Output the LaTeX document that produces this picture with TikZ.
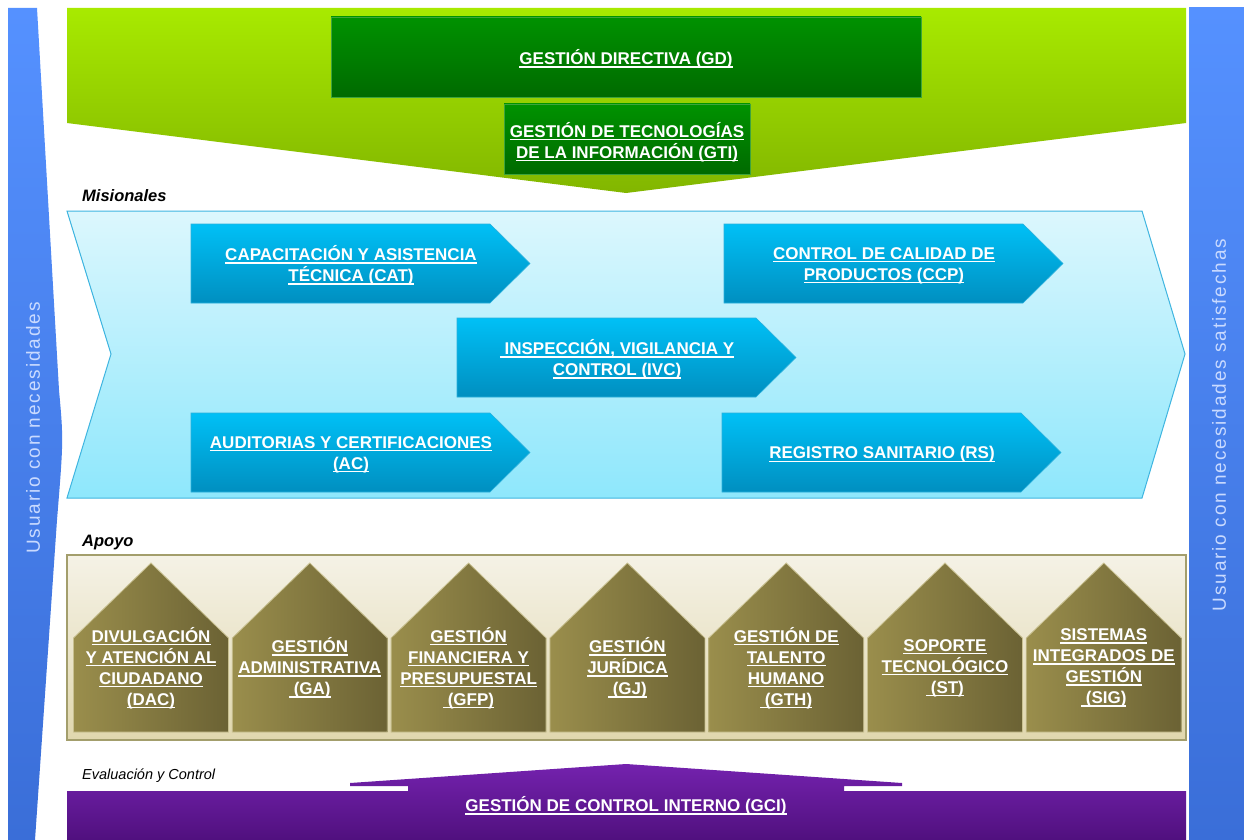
\documentclass[tikz,border=0pt]{standalone}
\usepackage{fontspec}
\setmainfont{Liberation Sans}
\newfontfamily\spacedfont[LetterSpace=10]{Liberation Sans}
\definecolor{sbT}{HTML}{5591FF}
\definecolor{sbB}{HTML}{3A6ED8}
\definecolor{sideT}{HTML}{C9DAFF}
\definecolor{grT}{HTML}{A8EA00}
\definecolor{grB}{HTML}{82B600}
\definecolor{dgT}{HTML}{009200}
\definecolor{dgB}{HTML}{006A00}
\definecolor{dgD}{HTML}{3DA33D}
\definecolor{lbT}{HTML}{DCF7FD}
\definecolor{lbB}{HTML}{8EE7FC}
\definecolor{lbD}{HTML}{3FB5E0}
\definecolor{arrT}{HTML}{00C0F6}
\definecolor{arrB}{HTML}{008FC0}
\definecolor{arrD}{HTML}{2AB0DC}
\definecolor{bgT}{HTML}{F5F2E6}
\definecolor{bgB}{HTML}{E0D7AE}
\definecolor{bgD}{HTML}{A39E6C}
\definecolor{hsL}{HTML}{9A8E4C}
\definecolor{hsR}{HTML}{6B6234}
\definecolor{hsD}{HTML}{C8C090}
\definecolor{puT}{HTML}{7422AE}
\definecolor{puB}{HTML}{50107E}
\newcommand\uln[1]{\leavevmode\setbox0=\hbox{#1}\rlap{\copy0}\rule[-3pt]{\wd0}{1.3pt}}
\newcommand\pentarrow[4]{%
  \path[pent] (#1,#2) -- ++(299,0) -- ++(40,39.5) -- ++(-40,39.5) -- ++(-299,0) -- cycle;
  \node[lbl] (#3) at (#1+160,#2+41.5) {#4};}
\newcommand\apoyohouse[3]{%
  \path[house] (#1-77.5,732) -- (#1-77.5,638) -- (#1,563) -- (#1+77.5,638) -- (#1+77.5,732) -- cycle;
  \node[lbl] (#2) at (#1,668) {#3};}
\begin{document}
\begin{tikzpicture}[x=1pt,y=-1pt,
  lbl/.style={text=white,font=\bfseries\fontsize{17}{21}\selectfont,align=center,inner sep=0},
  pent/.style={top color=arrT,bottom color=arrB,draw=arrD,line width=0.6},
  house/.style={left color=hsL,right color=hsR,draw=hsD,line width=0.8},
  sec/.style={font=\bfseries\itshape\fontsize{16.5}{20}\selectfont,anchor=base west,inner sep=0},
  side/.style={text=sideT,font=\spacedfont\fontsize{19}{22}\selectfont,rotate=90,inner sep=0}]
\useasboundingbox[fill=white] (0,0) rectangle (1244,840);
% side bars
\path[top color=sbT,bottom color=sbB] (8,8) -- (37,8) -- (59,390) .. controls (63.5,440) .. (57,520) -- (35,840) -- (8,840) -- cycle;
\path[top color=sbT,bottom color=sbB] (1189,8) rectangle (1244,840);
\node[side] (uin) at (33,428) {Usuario con necesidades};
\node[side] (uout) at (1219,425) {Usuario con necesidades satisfechas};
% top green
\path[top color=grT,bottom color=grB] (67,8) -- (1186,8) -- (1186,123) -- (626,193) -- (67,123) -- cycle;
\path[top color=dgT,bottom color=dgB,draw=dgD,line width=0.8] (331,17) rectangle (921,97);
\node[lbl] (gd) at (626,59) {\uln{GESTIÓN DIRECTIVA (GD)}};
\path[top color=dgT,bottom color=dgB,draw=dgD,line width=0.8] (504,104) rectangle (750,174);
\node[lbl] (gti) at (627,142) {\uln{GESTIÓN DE TECNOLOGÍAS}\\\uln{DE LA INFORMACIÓN (GTI)}};
% misionales
\node[sec] (mis) at (82,201) {Misionales};
\path[top color=lbT,bottom color=lbB,draw=lbD,line width=1] (67,211) -- (1142,211) -- (1185,354) -- (1142,498) -- (67,498) -- (111,354) -- cycle;
\pentarrow{191}{224}{cat}{\uln{CAPACITACIÓN Y ASISTENCIA}\\\uln{TÉCNICA (CAT)}}
\pentarrow{724}{224}{ccp}{\uln{CONTROL DE CALIDAD DE}\\\uln{PRODUCTOS (CCP)}}
\pentarrow{457}{318}{ivc}{\uln{ INSPECCIÓN, VIGILANCIA Y}\\\uln{CONTROL (IVC)}}
\pentarrow{191}{413}{ac}{\uln{AUDITORIAS Y CERTIFICACIONES}\\\uln{(AC)}}
\pentarrow{722}{413}{rs}{\uln{REGISTRO SANITARIO (RS)}}
% apoyo
\node[sec] (apo) at (82,546) {Apoyo};
\path[top color=bgT,bottom color=bgB,draw=bgD,line width=1.5] (67,555) rectangle (1186,740);
\apoyohouse{151}{dac}{\uln{DIVULGACIÓN}\\\uln{Y ATENCIÓN AL}\\\uln{CIUDADANO}\\\uln{(DAC)}}
\apoyohouse{309.8}{ga}{\uln{GESTIÓN}\\\uln{ADMINISTRATIVA}\\\uln{ (GA)}}
\apoyohouse{468.6}{gfp}{\uln{GESTIÓN}\\\uln{FINANCIERA Y}\\\uln{PRESUPUESTAL}\\\uln{ (GFP)}}
\apoyohouse{627.4}{gj}{\uln{GESTIÓN}\\\uln{JURÍDICA}\\\uln{ (GJ)}}
\apoyohouse{786.2}{gth}{\uln{GESTIÓN DE}\\\uln{TALENTO}\\\uln{HUMANO}\\\uln{ (GTH)}}
\apoyohouse{945}{st}{\uln{SOPORTE}\\\uln{TECNOLÓGICO}\\\uln{ (ST)}}
\apoyohouse{1103.8}{sig}{\uln{SISTEMAS}\\\uln{INTEGRADOS DE}\\\uln{GESTIÓN}\\\uln{ (SIG)}}
% evaluacion
\node[anchor=base west,inner sep=0,font=\itshape\fontsize{14.5}{17}\selectfont] (eva) at (82,779) {Evaluación y Control};
\path[top color=puT,bottom color=puB] (67,791) -- (408,791) -- (408,786) -- (350,786) -- (350,783) -- (626,764) -- (902,783) -- (902,786) -- (844,786) -- (844,791) -- (1186,791) -- (1186,840) -- (67,840) -- cycle;
\node[lbl] (gci) at (626,806) {\uln{GESTIÓN DE CONTROL INTERNO (GCI)}};
\end{tikzpicture}
\end{document}
